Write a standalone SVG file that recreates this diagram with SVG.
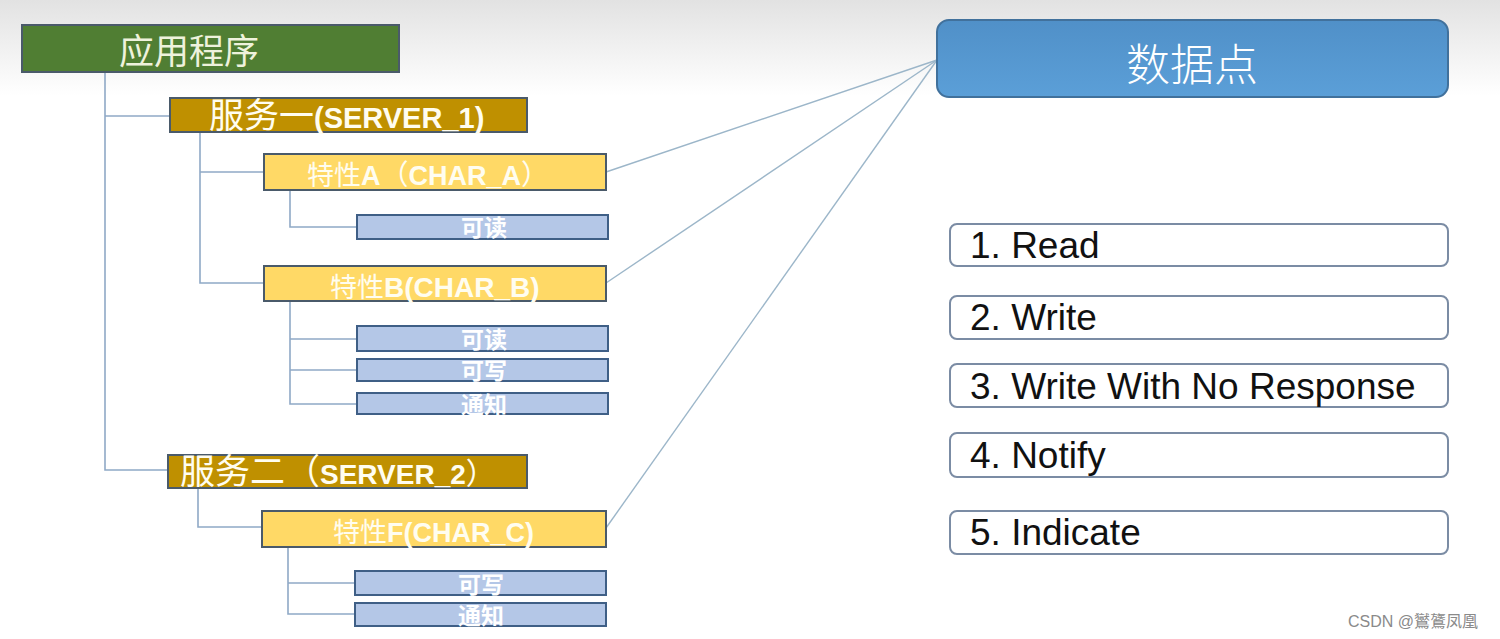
<svg xmlns="http://www.w3.org/2000/svg" width="1500" height="639" viewBox="0 0 1500 639">
<defs>
<linearGradient id="bg" x1="0" y1="0" x2="0" y2="1">
<stop offset="0" stop-color="#e2e2e2"/>
<stop offset="0.15" stop-color="#ffffff"/>
<stop offset="1" stop-color="#ffffff"/>
</linearGradient>
<linearGradient id="blue" x1="0" y1="0" x2="0" y2="1">
<stop offset="0" stop-color="#5090c8"/>
<stop offset="1" stop-color="#5b9fd8"/>
</linearGradient>
<style>
.tree{fill:none;stroke:#8fa9c6;stroke-width:1.6}
.link{fill:none;stroke:#9cb6c9;stroke-width:1.4}
.box{stroke:#4a5a6a;stroke-width:2}
.app{fill:#507e33}
.srv{fill:#bf9000}
.chr{fill:#ffd966}
.prop{fill:#b4c7e7;stroke:#3f5f86;stroke-width:2}
.cjk{font-family:"Noto Sans CJK SC",sans-serif}
.lat{font-family:"Liberation Sans",Arial,sans-serif;font-weight:bold}
.wt{fill:#fffdf0}
.ptxt{font-family:"Noto Sans CJK SC",sans-serif;font-weight:bold;font-size:23px;fill:#ffffff;text-anchor:middle}
.item{fill:#ffffff;stroke:#7b8ca4;stroke-width:2}
.itxt{font-family:"Liberation Sans",Arial,sans-serif;font-size:37px;fill:#111111}
</style>
</defs>
<rect x="0" y="0" width="1500" height="639" fill="url(#bg)"/>

<g id="connectors">
<path class="tree" d="M105,72 V470 H168"/>
<path class="tree" d="M105,116 H170"/>
<path class="tree" d="M200,132 V283 H264"/>
<path class="tree" d="M200,172 H264"/>
<path class="tree" d="M290,190 V227 H357"/>
<path class="tree" d="M290,301 V404 H357"/>
<path class="tree" d="M290,339 H357"/>
<path class="tree" d="M290,370 H357"/>
<path class="tree" d="M198,488 V527 H262"/>
<path class="tree" d="M288,547 V614 H355"/>
<path class="tree" d="M288,583 H355"/>
<path class="link" d="M606,172 L937,60"/>
<path class="link" d="M606,283 L937,60"/>
<path class="link" d="M606,528 L937,60"/>
</g>

<g id="app">
<rect class="box app" x="22" y="25" width="377" height="47"/>
<text class="cjk" x="119" y="64" font-size="35" fill="#eef2dc">应用程序</text>
</g>

<g id="server1">
<rect class="box srv" x="170" y="98" width="357" height="34"/>
<text x="209" y="128" class="wt"><tspan class="cjk" font-size="35">服务一</tspan><tspan class="lat" font-size="29">(SERVER_1)</tspan></text>
</g>

<g id="charA">
<rect class="box chr" x="264" y="154" width="342" height="36"/>
<text x="307" y="185" class="wt"><tspan class="cjk" font-size="27">特性</tspan><tspan class="lat" font-size="27">A</tspan><tspan class="cjk" font-size="28">（</tspan><tspan class="lat" font-size="27">CHAR_A</tspan><tspan class="cjk" font-size="28">）</tspan></text>
</g>

<g id="charA-read">
<rect class="prop" x="357" y="215" width="251" height="24"/>
<text class="ptxt" x="484" y="236">可读</text>
</g>

<g id="charB">
<rect class="box chr" x="264" y="266" width="342" height="35"/>
<text x="330" y="297" class="wt"><tspan class="cjk" font-size="27">特性</tspan><tspan class="lat" font-size="28">B(CHAR_B)</tspan></text>
</g>

<g id="charB-read">
<rect class="prop" x="357" y="326" width="251" height="25"/>
<text class="ptxt" x="484" y="348">可读</text>
</g>
<g id="charB-write">
<rect class="prop" x="357" y="359" width="251" height="22"/>
<text class="ptxt" x="484" y="379">可写</text>
</g>
<g id="charB-notify">
<rect class="prop" x="357" y="393" width="251" height="21"/>
<text class="ptxt" x="484" y="413">通知</text>
</g>

<g id="server2">
<rect class="box srv" x="168" y="455" width="359" height="33"/>
<text x="180" y="484" class="wt"><tspan class="cjk" font-size="35">服务二（</tspan><tspan class="lat" font-size="28">SERVER_2</tspan><tspan class="cjk" font-size="30">）</tspan></text>
</g>

<g id="charF">
<rect class="box chr" x="262" y="511" width="344" height="36"/>
<text x="333" y="542" class="wt"><tspan class="cjk" font-size="27">特性</tspan><tspan class="lat" font-size="27">F(CHAR_C)</tspan></text>
</g>

<g id="charF-write">
<rect class="prop" x="355" y="571" width="251" height="24"/>
<text class="ptxt" x="481" y="593">可写</text>
</g>
<g id="charF-notify">
<rect class="prop" x="355" y="603" width="251" height="23"/>
<text class="ptxt" x="481" y="624">通知</text>
</g>

<g id="datapoint">
<rect x="937" y="20" width="511" height="77" rx="12" fill="url(#blue)" stroke="#41719c" stroke-width="2"/>
<text class="cjk" x="1192" y="81" font-size="44" font-weight="300" fill="#ffffff" text-anchor="middle">数据点</text>
</g>

<g id="read">
<rect class="item" x="950" y="224" width="498" height="42" rx="7"/>
<text class="itxt" x="970" y="258">1. Read</text>
</g>
<g id="write">
<rect class="item" x="950" y="296" width="498" height="43" rx="7"/>
<text class="itxt" x="970" y="330">2. Write</text>
</g>
<g id="write-no-response">
<rect class="item" x="950" y="364" width="498" height="43" rx="7"/>
<text class="itxt" x="970" y="399">3. Write With No Response</text>
</g>
<g id="notify">
<rect class="item" x="950" y="433" width="498" height="44" rx="7"/>
<text class="itxt" x="970" y="468">4. Notify</text>
</g>
<g id="indicate">
<rect class="item" x="950" y="511" width="498" height="43" rx="7"/>
<text class="itxt" x="970" y="545">5. Indicate</text>
</g>

<text x="1348" y="627" font-family="Liberation Sans, Noto Sans CJK SC, sans-serif" font-size="16" fill="#8a8a8a">CSDN @鸑鷟凤凰</text>
</svg>
